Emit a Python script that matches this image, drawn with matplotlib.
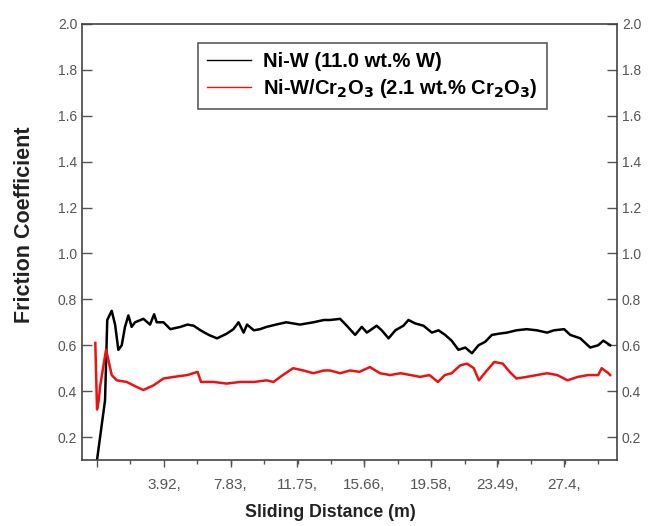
import matplotlib
matplotlib.use('Agg')
import matplotlib.pyplot as plt
from matplotlib.ticker import AutoMinorLocator

plt.rcParams['font.family'] = ['Liberation Sans', 'DejaVu Sans']

# Ni-W (11.0 wt.% W) friction trace
niw_x = [0.0, 0.18, 0.47, 0.6, 0.86, 1.06, 1.25, 1.45, 1.64, 1.84, 2.03, 2.23, 2.72, 3.11,
         3.35, 3.5, 3.9, 4.3, 4.9, 5.3, 5.67, 6.07, 6.55, 7.04, 7.6, 8.0, 8.3, 8.6, 8.8, 9.2,
         9.56, 9.95, 10.5, 11.1, 11.9, 12.7, 13.3, 13.67, 14.26, 14.65, 15.14, 15.53, 15.83,
         16.4, 16.7, 17.1, 17.5, 17.97, 18.27, 18.66, 19.15, 19.64, 20.03, 20.42, 20.8, 21.2,
         21.6, 21.99, 22.38, 22.77, 23.16, 23.55, 24.04, 24.6, 25.2, 25.8, 26.4, 26.8, 27.4,
         27.76, 28.35, 28.93, 29.4, 29.7, 30.1]
niw_y = [0.10, 0.20, 0.36, 0.71, 0.75, 0.69, 0.58, 0.60, 0.68, 0.73, 0.68, 0.70, 0.715, 0.69,
         0.735, 0.70, 0.70, 0.67, 0.68, 0.69, 0.685, 0.665, 0.645, 0.63, 0.65, 0.67, 0.70, 0.655,
         0.69, 0.665, 0.67, 0.68, 0.69, 0.70, 0.69, 0.70, 0.71, 0.71, 0.715, 0.685, 0.645, 0.68,
         0.655, 0.685, 0.665, 0.63, 0.665, 0.685, 0.71, 0.695, 0.685, 0.655, 0.665, 0.645, 0.62,
         0.58, 0.59, 0.565, 0.60, 0.615, 0.645, 0.65, 0.655, 0.665, 0.67, 0.665, 0.655, 0.665,
         0.67, 0.645, 0.63, 0.59, 0.60, 0.62, 0.60]

# Ni-W/Cr2O3 (2.1 wt.% Cr2O3) friction trace
cr_x = [-0.1, 0.0, 0.1, 0.18, 0.33, 0.53, 0.67, 0.86, 1.16, 1.74, 2.33, 2.72, 3.31, 3.9, 4.5,
        5.3, 5.9, 6.1, 6.84, 7.6, 8.4, 9.2, 9.95, 10.35, 10.9, 11.5, 12.1, 12.7, 13.3, 13.67,
        14.26, 14.85, 15.4, 16.0, 16.6, 17.2, 17.8, 18.4, 18.95, 19.5, 20.0, 20.4, 20.8, 21.3,
        21.7, 22.1, 22.4, 22.8, 23.3, 23.8, 24.2, 24.6, 25.2, 25.8, 26.4, 27.0, 27.6, 28.2,
        28.8, 29.4, 29.6, 30.0, 30.1]
cr_y = [0.61, 0.32, 0.36, 0.42, 0.49, 0.58, 0.535, 0.47, 0.447, 0.44, 0.418, 0.405, 0.425,
        0.455, 0.462, 0.47, 0.484, 0.44, 0.44, 0.433, 0.44, 0.44, 0.447, 0.44, 0.47, 0.50, 0.49,
        0.478, 0.49, 0.49, 0.478, 0.49, 0.484, 0.505, 0.478, 0.47, 0.478, 0.47, 0.462, 0.47,
        0.44, 0.47, 0.478, 0.512, 0.52, 0.50, 0.447, 0.484, 0.527, 0.52, 0.484, 0.455, 0.462,
        0.47, 0.478, 0.47, 0.447, 0.462, 0.47, 0.47, 0.50, 0.478, 0.47]

x_ticks = [0, 3.92, 7.83, 11.75, 15.66, 19.58, 23.49, 27.4]
x_labels = ['', '3.92,', '7.83,', '11.75,', '15.66,', '19.58,', '23.49,', '27.4,']
y_ticks = [0.2, 0.4, 0.6, 0.8, 1.0, 1.2, 1.4, 1.6, 1.8, 2.0]

fig = plt.figure(figsize=(6.52, 5.26), dpi=100)
ax = fig.add_axes([0.1258, 0.1255, 0.8205, 0.829])

ax.plot(niw_x, niw_y, color='black', linewidth=1.8,
        label='Ni-W (11.0 wt.% W)')
ax.plot(cr_x, cr_y, color='#ee1111', linewidth=1.8,
        label='Ni-W/Cr$_{\\mathbf{2}}$O$_{\\mathbf{3}}$ (2.1 wt.% Cr$_{\\mathbf{2}}$O$_{\\mathbf{3}}$)')

ax.set_xlim(-0.88, 30.5)
ax.set_ylim(0.1, 2.0)

ax.set_xticks(x_ticks)
ax.set_xticklabels(x_labels)
ax.xaxis.set_minor_locator(AutoMinorLocator(2))
ax.set_yticks(y_ticks)
ax.set_yticklabels([f'{v:.1f}' for v in y_ticks])

ax.tick_params(axis='x', which='major', direction='out', length=5, width=1,
               colors='#555555', labelsize=11, pad=8)
ax.tick_params(axis='x', which='minor', direction='out', length=3, width=1, color='#555555')
ax.tick_params(axis='y', direction='in', length=7, width=1, colors='#555555',
               labelsize=10, left=True, right=True, labelleft=True, labelright=True)
for s in ax.spines.values():
    s.set_color('#444444')
    s.set_linewidth(1.2)

ax.set_ylabel('Friction Coefficient', fontsize=15.5, fontweight='bold', color='#222222')
ax.yaxis.set_label_coords(-0.088, 0.539)
ax.set_xlabel('Sliding Distance (m)', fontsize=12.8, fontweight='bold', color='#222222')
ax.xaxis.set_label_coords(0.465, -0.1)

leg = ax.legend(loc='upper left', bbox_to_anchor=(0.2168, 0.956), borderaxespad=0,
                frameon=True, fancybox=False, edgecolor='#333333',
                prop={'weight': 'bold', 'size': 14.5},
                handlelength=2.2, borderpad=0.45, labelspacing=0.3, handletextpad=0.6)
leg.get_frame().set_linewidth(1.2)
for line in leg.get_lines():
    line.set_linewidth(1.0)

fig.savefig('out.png', dpi=100)
